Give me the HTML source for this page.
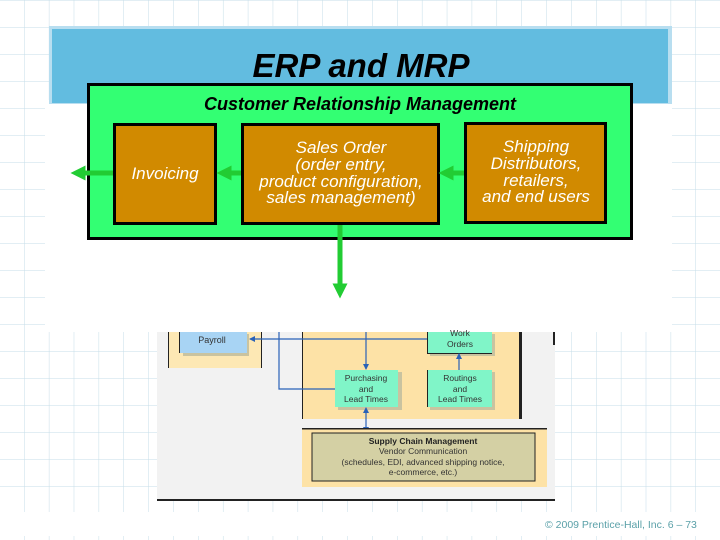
<!DOCTYPE html>
<html><head><meta charset="utf-8"><style>
html,body{margin:0;padding:0;background:#fff}
svg{display:block}
text{font-family:"Liberation Sans",Arial,sans-serif}
</style></head><body>
<svg width="720" height="540" viewBox="0 0 720 540" xmlns="http://www.w3.org/2000/svg">
<defs>
<pattern id="g" x="24" y="0" width="24.87" height="27" patternUnits="userSpaceOnUse">
<path d="M0 0V27M0 0H24.87" stroke="#c5dde8" stroke-width="1" fill="none"/>
</pattern>
<marker id="ga" markerWidth="3" markerHeight="3" refX="1.5" refY="1.5" orient="auto" markerUnits="strokeWidth"><path d="M0,0L3,1.5L0,3z" fill="#22cc33"/></marker>
<marker id="ba" markerWidth="6" markerHeight="6" refX="5" refY="3" orient="auto" markerUnits="userSpaceOnUse"><path d="M0,0L6,3L0,6z" fill="#2a62b8"/></marker>
</defs>
<rect width="720" height="540" fill="#fff"/>
<rect x="0" y="0" width="720" height="512" fill="url(#g)"/>
<rect x="0" y="536" width="720" height="4" fill="url(#g)"/>
<rect x="45" y="100" width="627" height="232" fill="#fff"/>
<rect x="49" y="26" width="623" height="78" fill="#b8def0"/>
<rect x="52" y="29" width="616" height="74" fill="#62bce0"/>
<text x="361" y="77" font-size="33" font-style="italic" font-weight="bold" text-anchor="middle" fill="#000">ERP and MRP</text>

<rect x="157" y="332" width="398" height="168" fill="#f2f2f2"/>
<rect x="157" y="499" width="398" height="2" fill="#222"/>
<rect x="168" y="332" width="94" height="36" fill="#fde8b4"/>
<rect x="168" y="332" width="1" height="36" fill="#222"/>
<rect x="261" y="332" width="1" height="36" fill="#222"/>
<rect x="183" y="334" width="66" height="22" fill="#c9c3a0"/>
<rect x="180" y="332" width="67" height="21" fill="#a8d4f4"/>
<rect x="179" y="332" width="1" height="21" fill="#222"/>
<text x="212" y="343" font-size="9" text-anchor="middle" fill="#333">Payroll</text>
<rect x="302" y="332" width="218" height="87" fill="#fde2a6"/>
<rect x="302" y="332" width="1" height="87" fill="#222"/>
<rect x="519" y="332" width="3" height="87" fill="#222"/>
<rect x="553" y="332" width="2" height="13" fill="#222"/>
<rect x="430" y="334" width="65" height="22" fill="#c9c3a0"/>
<rect x="427" y="332" width="65" height="21" fill="#80f5c8"/>
<rect x="427" y="353" width="65" height="1" fill="#222"/>
<rect x="427" y="332" width="1" height="21" fill="#222"/>
<text x="460" y="336" font-size="8.5" text-anchor="middle" fill="#333">Work</text>
<text x="460" y="347" font-size="8.5" text-anchor="middle" fill="#333">Orders</text>
<rect x="338" y="372" width="64" height="38" fill="#c9c3a0"/>
<rect x="335" y="370" width="63" height="37" fill="#80f5c8"/>
<text x="366" y="381" font-size="8.5" text-anchor="middle" fill="#333">Purchasing</text>
<text x="366" y="392" font-size="8.5" text-anchor="middle" fill="#333">and</text>
<text x="366" y="402" font-size="8.5" text-anchor="middle" fill="#333">Lead Times</text>
<rect x="430" y="372" width="65" height="38" fill="#c9c3a0"/>
<rect x="427" y="370" width="65" height="37" fill="#80f5c8"/>
<rect x="427" y="370" width="1" height="37" fill="#222"/>
<text x="460" y="381" font-size="8.5" text-anchor="middle" fill="#333">Routings</text>
<text x="460" y="392" font-size="8.5" text-anchor="middle" fill="#333">and</text>
<text x="460" y="402" font-size="8.5" text-anchor="middle" fill="#333">Lead Times</text>
<g stroke="#2a62b8" stroke-width="1.2" fill="none">
<path d="M427 339H250" marker-end="url(#ba)"/>
<path d="M279 332V389H335"/>
<path d="M366 332V369" marker-end="url(#ba)"/>
<path d="M459 370V354" marker-end="url(#ba)"/>
<path d="M366 420V432" marker-end="url(#ba)"/>
<path d="M366 420V408" marker-end="url(#ba)"/>
</g>
<rect x="302" y="429" width="245" height="58" fill="#fde2a6"/>
<rect x="302" y="428" width="245" height="1.5" fill="#222"/>
<rect x="312" y="433" width="223" height="48" fill="#d4d0a4" stroke="#222" stroke-width="1"/>
<text x="423" y="444" font-size="8.5" font-weight="bold" text-anchor="middle" fill="#222">Supply Chain Management</text>
<text x="423" y="454" font-size="8.5" text-anchor="middle" fill="#333">Vendor Communication</text>
<text x="423" y="465" font-size="8.5" text-anchor="middle" fill="#333">(schedules, EDI, advanced shipping notice,</text>
<text x="423" y="475" font-size="8.5" text-anchor="middle" fill="#333">e-commerce, etc.)</text>

<rect x="88.5" y="84.5" width="543" height="154" fill="#33ff73" stroke="#000" stroke-width="3"/>
<text x="360" y="110" font-size="18" font-weight="bold" font-style="italic" text-anchor="middle" fill="#000">Customer Relationship Management</text>
<g fill="#d18a00" stroke="#000" stroke-width="3">
<rect x="114.5" y="124.5" width="101" height="99"/>
<rect x="242.5" y="124.5" width="196" height="99"/>
<rect x="465.5" y="123.5" width="140" height="99"/>
</g>
<g stroke="#22cc33" stroke-width="5" fill="none">
<path d="M113 173H78" marker-end="url(#ga)"/>
<path d="M241 173H224" marker-end="url(#ga)"/>
<path d="M464 173H446" marker-end="url(#ga)"/>
<path d="M340 225V291" marker-end="url(#ga)"/>
</g>
<g font-size="17" font-style="italic" fill="#fff" text-anchor="middle">
<text x="165" y="179">Invoicing</text>
<text x="341" y="153">Sales Order</text>
<text x="341" y="170">(order entry,</text>
<text x="341" y="187">product configuration,</text>
<text x="341" y="203">sales management)</text>
<text x="536" y="152">Shipping</text>
<text x="536" y="169">Distributors,</text>
<text x="536" y="186">retailers,</text>
<text x="536" y="202">and end users</text>
</g>
<rect x="530" y="513" width="190" height="22" fill="#fff"/>
<text x="545" y="528" font-size="10.5" fill="#5aa0a8">© 2009 Prentice-Hall, Inc.   6 – 73</text>
</svg>
</body></html>
